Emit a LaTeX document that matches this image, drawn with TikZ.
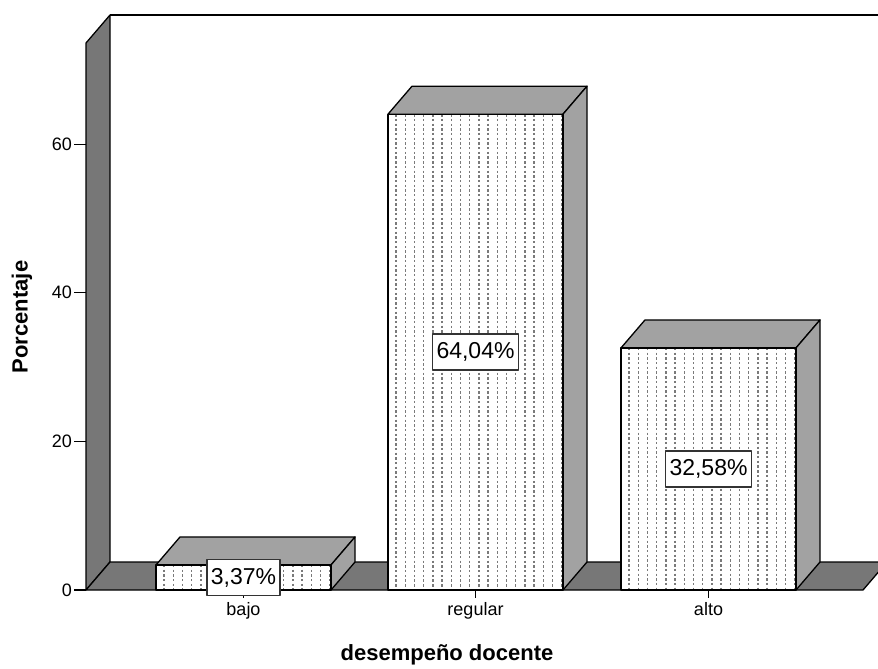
\documentclass[tikz,border=0pt]{standalone}
\usepackage{fontspec}
\setmainfont{Liberation Sans}
\usetikzlibrary{positioning}

\definecolor{wallgray}{HTML}{777777}
\definecolor{sidegray}{HTML}{A2A2A2}
\definecolor{dotgray}{HTML}{7A7A7A}

\begin{document}
\begin{tikzpicture}[x=1pt, y=-1pt, line join=round,
    frame/.style={draw=black, line width=1.3pt},
    ticklab/.style={font=\fontsize{18}{20}\selectfont, inner sep=1pt},
    pctbox/.style={draw=black!80, line width=1.8pt, fill=white, inner xsep=4pt,
      minimum height=36pt, font=\fontsize{23}{25}\selectfont},
    axtitle/.style={font=\fontsize{22}{24}\selectfont\bfseries}]
    \useasboundingbox (0,0) rectangle (878,669);
    \clip (0,0) rectangle (878,669);

    % wall and floor
    \coordinate (FL) at (86,590);
    \coordinate (FR) at (863,590);
    \coordinate (BL) at (110,562);
    \coordinate (BR) at (887,562);
    \coordinate (WF) at (86,43);
    \coordinate (WB) at (110,15);

    \filldraw[frame, fill=wallgray] (FL) -- (WF) -- (WB) -- (BL) -- cycle;
    \filldraw[frame, fill=wallgray] (FL) -- (FR) -- (BR) -- (BL) -- cycle;
    \draw[frame] (WB) -- (890,15);

    % y axis
    \foreach \v in {0,20,40,60} {
      \pgfmathsetmacro{\yy}{590-7.43*\v}
      \draw[line width=1.2pt] (74,\yy) -- (86,\yy);
      \node[ticklab, anchor=east] (tick\v) at (73,\yy) {\v};
    }

    % bars
    \foreach \xl/\val/\cat/\pct in {156/3.37/bajo/{3,37\%}, 388/64.04/regular/{64,04\%}, 621/32.58/alto/{32,58\%}} {
      \pgfmathsetmacro{\yt}{590-7.43*\val}
      \pgfmathsetmacro{\xr}{\xl+175}
      \pgfmathsetmacro{\xc}{\xl+87.5}
      \pgfmathsetmacro{\ym}{(\yt+590)/2}
      \filldraw[frame, fill=sidegray] (\xl,\yt) -- (\xl+24,\yt-28) -- (\xr+24,\yt-28) -- (\xr,\yt) -- cycle;
      \filldraw[frame, fill=sidegray] (\xr,\yt) -- (\xr+24,\yt-28) -- (\xr+24,562) -- (\xr,590) -- cycle;
      \fill[white] (\xl,\yt) rectangle (\xr,590);
      \begin{scope}
        \clip (\xl,\yt) rectangle (\xr,590);
        \foreach \k in {0,...,18}
          \draw[dotgray, line width=1.4pt, dash pattern=on 2.4pt off 2.3pt] (\xl+8+9.2*\k,\yt) -- (\xl+8+9.2*\k,590);
      \end{scope}
      \draw[frame] (\xl,\yt) rectangle (\xr,590);
      \draw[line width=1.2pt] (\xc,590) -- (\xc,598);
      \node[ticklab, anchor=north] (cat-\cat) at (\xc,601) {\cat};
      \node[pctbox] (pct-\cat) at (\xc,\ym) {\pct};
    }

    % axis titles
    \node[axtitle] (xtitle) at (447,655) {desempeño docente};
    \node[axtitle, rotate=90] (ytitle) at (22,317) {Porcentaje};

\end{tikzpicture}
\end{document}
